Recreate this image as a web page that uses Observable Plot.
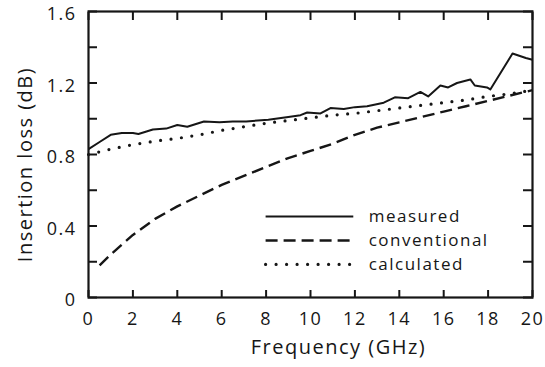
<!DOCTYPE html>
<html>
<head>
<meta charset="utf-8">
<script src="https://cdn.jsdelivr.net/npm/d3@7"></script>
<script src="https://cdn.jsdelivr.net/npm/@observablehq/plot@0.6"></script>
<style>
  html, body { margin: 0; padding: 0; background: #fff; }
  #chart svg { display: block; }
</style>
</head>
<body>
<div id="chart"></div>
<script>
// ---- data ----
const xTicks = [0, 2, 4, 6, 8, 10, 12, 14, 16, 18, 20];
const yTicks = [0, 0.2, 0.4, 0.6, 0.8, 1.0, 1.2, 1.4, 1.6];
const yLabels = [0, 0.4, 0.8, 1.2, 1.6];

const measuredFreq = [0, 0.5, 1.0, 1.5, 2.0, 2.25, 2.9, 3.5, 4.0, 4.45, 5.2, 5.9, 6.5, 7.1, 8.1, 9.0, 9.55, 9.85, 10.45, 10.9, 11.5, 12.0, 12.55, 13.3, 13.8, 14.4, 14.95, 15.3, 15.85, 16.2, 16.6, 17.2, 17.4, 17.95, 18.1, 19.1, 19.7, 20];
const measured     = [0.83, 0.87, 0.91, 0.92, 0.92, 0.915, 0.94, 0.945, 0.965, 0.955, 0.985, 0.98, 0.985, 0.985, 0.995, 1.01, 1.02, 1.035, 1.03, 1.06, 1.055, 1.065, 1.07, 1.09, 1.12, 1.115, 1.15, 1.125, 1.186, 1.175, 1.20, 1.22, 1.186, 1.175, 1.164, 1.365, 1.34, 1.33];

const calcFreq = [0, 1, 2, 3, 4, 5, 6, 7, 8, 9, 10, 11, 12, 13, 14, 15, 16, 17, 18, 19, 20];
const calculated = [0.80, 0.83, 0.855, 0.875, 0.89, 0.91, 0.935, 0.955, 0.975, 0.99, 1.005, 1.02, 1.03, 1.045, 1.06, 1.075, 1.09, 1.105, 1.125, 1.14, 1.16];

const convFreq = [0.5, 1, 2, 3, 4, 5, 6, 7, 8, 9, 10, 11, 12, 13, 14, 15, 16, 17, 18, 19, 20];
const conventional = [0.18, 0.24, 0.35, 0.44, 0.51, 0.57, 0.63, 0.68, 0.73, 0.78, 0.82, 0.86, 0.91, 0.95, 0.98, 1.01, 1.04, 1.07, 1.10, 1.13, 1.16];

const seriesNames = ["measured", "conventional", "calculated"];

const xLabel = "Frequency (GHz)";
const yLabel = "Insertion loss (dB)";

// ---- styles / layout ----
const ink = "#161616";
const font = "'Open Sans', 'DejaVu Sans', sans-serif";
const seriesStyle = {
  measured:     {strokeWidth: 2,   strokeDasharray: null,     strokeLinecap: "butt"},
  conventional: {strokeWidth: 2.4, strokeDasharray: "12,6",   strokeLinecap: "butt"},
  calculated:   {strokeWidth: 3.2, strokeDasharray: "0,10.5", strokeLinecap: "round"}
};
const legendLayout = {x1: 8.0, x2: 11.95, xText: 12.62, yTop: 0.453, step: 0.134};

const toRows = (fs, vs) => fs.map((f, i) => ({f, v: vs[i]}));
const rows = {
  measured: toRows(measuredFreq, measured),
  conventional: toRows(convFreq, conventional),
  calculated: toRows(calcFreq, calculated)
};
const legendRows = seriesNames.map((name, i) => ({
  name,
  y: legendLayout.yTop - i * legendLayout.step
}));
const noText = () => "";

const marks = [];
// curves
for (const name of seriesNames) {
  marks.push(Plot.line(rows[name], {x: "f", y: "v", stroke: ink, ...seriesStyle[name]}));
}
// frame
marks.push(Plot.frame({stroke: ink, strokeWidth: 2.2}));
// inward ticks on all four sides
marks.push(Plot.axisX({ticks: xTicks, anchor: "bottom", tickSize: -7, tickFormat: noText, label: null, stroke: ink, strokeWidth: 2}));
marks.push(Plot.axisX({ticks: xTicks, anchor: "top", tickSize: -8, tickFormat: noText, label: null, stroke: ink, strokeWidth: 2}));
marks.push(Plot.axisY({ticks: yTicks, anchor: "left", tickSize: -9, tickFormat: noText, label: null, stroke: ink, strokeWidth: 2}));
marks.push(Plot.axisY({ticks: yTicks, anchor: "right", tickSize: -10, tickFormat: noText, label: null, stroke: ink, strokeWidth: 2}));
// tick labels
marks.push(Plot.axisX({ticks: xTicks, tickSize: 0, tickPadding: 15, label: null, fontSize: 18, fill: ink}));
marks.push(Plot.axisY({ticks: yLabels, tickSize: 0, tickPadding: 12, label: null, fontSize: 18, fill: ink, dy: 3,
  tickFormat: d => d === 0 ? "0" : d.toFixed(1)}));
// axis titles
marks.push(Plot.text([xLabel], {frameAnchor: "bottom", text: d => d, dx: 28, dy: 56, fontSize: 20, fill: ink, ariaLabel: "xtitle"}));
marks.push(Plot.text([yLabel], {frameAnchor: "left", text: d => d, rotate: -90, textAnchor: "middle", dx: -63, dy: 10, fontSize: 20, fill: ink, ariaLabel: "ytitle"}));
// legend
for (const r of legendRows) {
  marks.push(Plot.ruleY([r], {y: "y", x1: legendLayout.x1, x2: legendLayout.x2, stroke: ink, ...seriesStyle[r.name]}));
}
marks.push(Plot.text(legendRows, {x: legendLayout.xText, y: "y", text: "name", textAnchor: "start", fontSize: 17, fill: ink, ariaLabel: "legendtext"}));

const chart = Plot.plot({
  width: 545,
  height: 367,
  marginLeft: 88,
  marginRight: 13,
  marginTop: 11,
  marginBottom: 70,
  style: {fontFamily: font, background: "#fff", color: ink, letterSpacing: "1.5px"},
  x: {domain: [0, 20], axis: null},
  y: {domain: [0, 1.6], axis: null},
  marks
});

d3.select(chart).selectAll("g[aria-label='xtitle'] text").style("letter-spacing", "3.5px");
d3.select(chart).selectAll("g[aria-label='ytitle'] text").style("letter-spacing", "2.4px");
d3.select(chart).selectAll("g[aria-label='legendtext'] text").style("letter-spacing", "2px");

document.getElementById("chart").appendChild(chart);
</script>
</body>
</html>
